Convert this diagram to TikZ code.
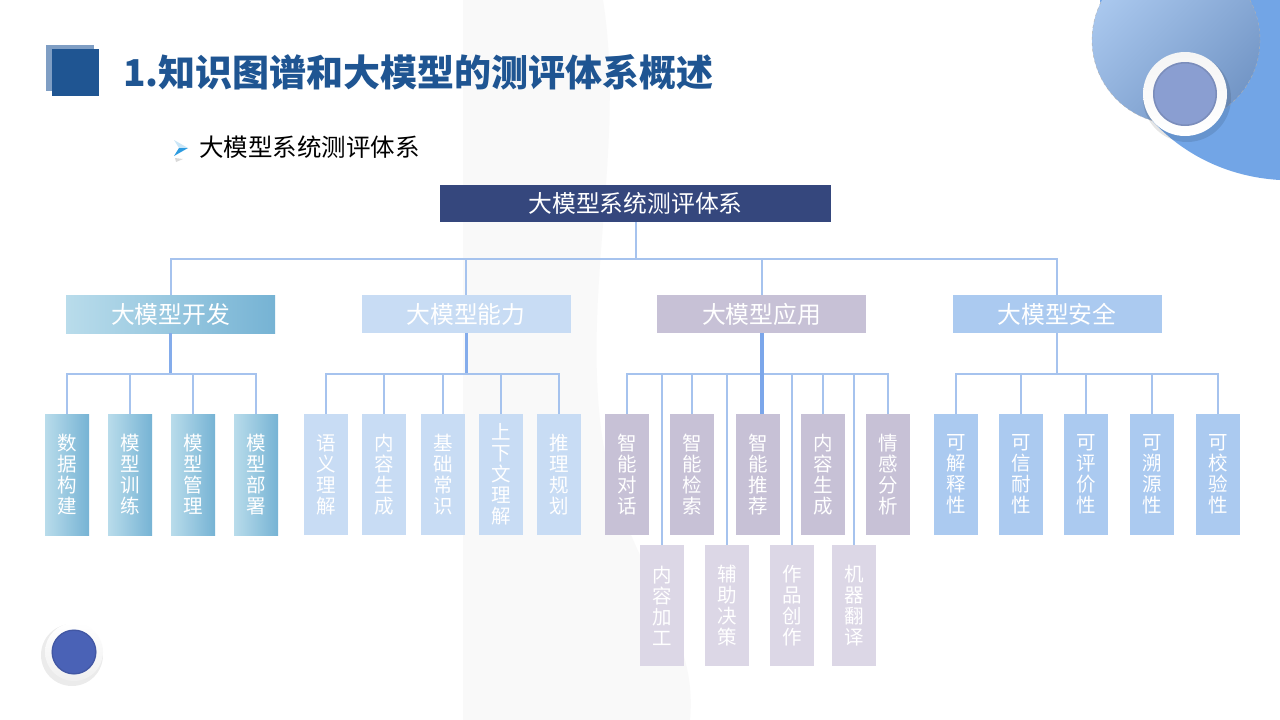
\documentclass[tikz,border=0pt]{standalone}
\usepackage{fontspec}
\setmainfont{Noto Sans CJK SC}
\usetikzlibrary{calc}
\definecolor{titleblue}{HTML}{1F5592}
\definecolor{sqlight}{HTML}{7F9EC4}
\definecolor{rootfill}{HTML}{35477D}
\definecolor{devL}{HTML}{B9DCEB}
\definecolor{devR}{HTML}{76B3D4}
\definecolor{abil}{HTML}{C8DCF4}
\definecolor{appl}{HTML}{C7C1D6}
\definecolor{appl2}{HTML}{DCD7E6}
\definecolor{secu}{HTML}{ABCAF0}
\definecolor{lineblue}{HTML}{A6C3EE}
\definecolor{stemblue}{HTML}{7BA6EA}
\definecolor{bigblue}{HTML}{72A5E6}
\definecolor{circL}{HTML}{ABC9EF}
\definecolor{circR}{HTML}{7396C6}
\definecolor{ringin}{HTML}{8A9ED1}
\definecolor{ringin2}{HTML}{4A62B6}
\definecolor{swoosh}{HTML}{F9F9F9}
\definecolor{bulletblue}{HTML}{2C9BE0}
\begin{document}
\begin{tikzpicture}[x=1pt,y=-1pt,
  rootbox/.style={minimum width=391, minimum height=37, inner sep=0, fill=rootfill, text=white, font=\fontsize{23.8}{23.8}\selectfont},
  lvone/.style={minimum width=209, minimum height=38, inner sep=0, text=white, font=\fontsize{23.8}{23.8}\selectfont},
  leaf/.style={minimum width=44, minimum height=121, inner sep=0, text=white, align=center, font=\fontsize{19.5}{21}\selectfont},
  conn/.style={draw=lineblue, line width=1.3},
  busline/.style={draw=lineblue, line width=2},
  stem/.style={draw=stemblue!80!lineblue, line width=2.2},
]
\useasboundingbox (0,0) rectangle (1280,720);
\fill[white] (0,0) rectangle (1280,720);
% faint background swoosh
\fill[swoosh] (463,0) -- (603,0) .. controls (625,140) and (585,280) .. (600,420) .. controls (615,560) and (700,620) .. (690,720) -- (463,720) -- cycle;
% top-right decoration
\begin{scope}
\clip (0,0) rectangle (1280,720);
\fill[bigblue] (1100,0) .. controls (1112,110) and (1190,175) .. (1280,180) -- (1280,0) -- cycle;
\shade[top color=circL, bottom color=circR, shading angle=45] (1176,40) circle (84);
\draw[gray!60, line width=0.4, dashed] (1176,40) circle (84);
\end{scope}
% ring top-right
\fill[black, opacity=0.10] (1187,98) circle (44);
\shade[top color=gray!8, bottom color=white] (1185,94) circle (42);
\fill[ringin] (1185,94) circle (32);
\draw[ringin!70!black, opacity=0.35, line width=1.5] (1185,94) circle (31.2);
% ring bottom-left
\fill[black, opacity=0.08] (72,655) circle (31);
\shade[top color=white, bottom color=gray!12] (74,652) circle (29);
\fill[ringin2] (74,652) circle (22.5);
\draw[ringin2!70!black, opacity=0.35, line width=1.2] (74,652) circle (21.8);
% title squares
\fill[sqlight] (46,45) rectangle (94,91);
\fill[titleblue] (52,49) rectangle (99,96);
\node[anchor=west, text=titleblue, font=\fontsize{37}{37}\selectfont\bfseries, inner sep=0] (title) at (123,72) {1.知识图谱和大模型的测评体系概述};
% bullet arrow
\fill[bulletblue!25] (174,140) -- (188,148) -- (179,148) -- cycle;
\fill[bulletblue] (179,148) -- (188,148) -- (174,156) -- cycle;
\fill[gray!30] (175,158) -- (183,159) -- (176,162) -- cycle;
\node[anchor=west, text=black, font=\fontsize{24.5}{24.5}\selectfont, inner sep=0] (sub) at (199,147) {大模型系统测评体系};

% root and level 1
\node[rootbox] (root) at (635.5,203.5) {大模型系统测评体系};
\node[lvone, left color=devL, right color=devR] (dev) at (170.5,314) {大模型开发};
\node[lvone, fill=abil] (abl) at (466,314) {大模型能力};
\node[lvone, fill=appl] (app) at (761.5,314) {大模型应用};
\node[lvone, fill=secu] (sec) at (1057,314) {大模型安全};

\coordinate (b0) at (635.5,259);
\draw[busline] (root.south) -- (b0);
\foreach \n in {dev,abl,app,sec} \draw[busline] (\n.north) |- (b0);

% group 1
\node[leaf, left color=devL, right color=devR] (d1) at (67,474.5) {数\\据\\构\\建};
\node[leaf, left color=devL, right color=devR] (d2) at (130,474.5) {模\\型\\训\\练};
\node[leaf, left color=devL, right color=devR] (d3) at (193,474.5) {模\\型\\管\\理};
\node[leaf, left color=devL, right color=devR] (d4) at (256,474.5) {模\\型\\部\\署};
\coordinate (b1) at (dev.south |- 0,374);
\draw[stem] (dev.south) -- (b1);
\foreach \n in {d1,d2,d3,d4} \draw[conn] (\n.north) |- (b1);

% group 2
\node[leaf, fill=abil] (a1) at (326,474.5) {语\\义\\理\\解};
\node[leaf, fill=abil] (a2) at (384,474.5) {内\\容\\生\\成};
\node[leaf, fill=abil] (a3) at (443,474.5) {基\\础\\常\\识};
\node[leaf, fill=abil] (a4) at (501,474.5) {上\\下\\文\\理\\解};
\node[leaf, fill=abil] (a5) at (559,474.5) {推\\理\\规\\划};
\coordinate (b2) at (abl.south |- 0,374);
\draw[stem, line width=3] (abl.south) -- (b2);
\foreach \n in {a1,a2,a3,a4,a5} \draw[conn] (\n.north) |- (b2);

% group 3
\node[leaf, fill=appl] (p1) at (627,474.5) {智\\能\\对\\话};
\node[leaf, fill=appl] (p2) at (692,474.5) {智\\能\\检\\索};
\node[leaf, fill=appl] (p3) at (758,474.5) {智\\能\\推\\荐};
\node[leaf, fill=appl] (p4) at (823,474.5) {内\\容\\生\\成};
\node[leaf, fill=appl] (p5) at (888,474.5) {情\\感\\分\\析};
\node[leaf, fill=appl2] (q1) at (662,605.5) {内\\容\\加\\工};
\node[leaf, fill=appl2] (q2) at (727,605.5) {辅\\助\\决\\策};
\node[leaf, fill=appl2] (q3) at (792,605.5) {作\\品\\创\\作};
\node[leaf, fill=appl2] (q4) at (854,605.5) {机\\器\\翻\\译};
\coordinate (b3) at (app.south |- 0,374);
\foreach \n in {p1,p2,p4,p5,q1,q2,q3,q4} \draw[conn] (\n.north) |- (b3);
\draw[stem, draw=stemblue, line width=4] (app.south) -- (app.south |- p3.north);

% group 4
\node[leaf, fill=secu] (s1) at (956,474.5) {可\\解\\释\\性};
\node[leaf, fill=secu] (s2) at (1021,474.5) {可\\信\\耐\\性};
\node[leaf, fill=secu] (s3) at (1086,474.5) {可\\评\\价\\性};
\node[leaf, fill=secu] (s4) at (1152,474.5) {可\\溯\\源\\性};
\node[leaf, fill=secu] (s5) at (1218,474.5) {可\\校\\验\\性};
\coordinate (b4) at (sec.south |- 0,374);
\draw[conn] (sec.south) -- (b4);
\foreach \n in {s1,s2,s3,s4,s5} \draw[conn] (\n.north) |- (b4);
\end{tikzpicture}
\end{document}
